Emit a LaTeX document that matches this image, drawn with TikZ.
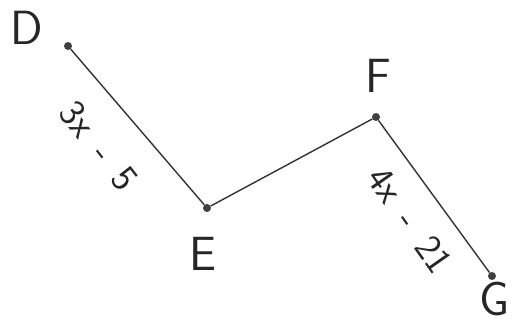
\documentclass[tikz,border=0pt]{standalone}
\usepackage{fontspec}
\begin{document}
\begin{tikzpicture}[x=1pt,y=-1pt,
  seg/.style={draw=black!80, line width=1.4pt},
  pt/.style={circle, fill=black!75, inner sep=0pt, minimum size=8pt},
  vlabel/.style={font=\sffamily\fontsize{48}{54}\selectfont, text=black!85, inner sep=0pt},
  elabel/.style={font=\sffamily\fontsize{38}{44}\selectfont, text=black!85, inner sep=0pt}]
\useasboundingbox (0,0) rectangle (515,324);
\node[pt] (D) at (68,46) {};
\node[pt] (E) at (207,208) {};
\node[pt] (F) at (376,117) {};
\node[pt] (G) at (492,276) {};
\draw[seg] (D) -- (E) -- (F) -- (G);
\node[vlabel] (lD) at (27,28) {D};
\node[vlabel] (lE) at (203,254) {E};
\node[vlabel] (lF) at (378,76) {F};
\node[vlabel] (lG) at (495,299) {G};
\node[elabel, rotate=-52] (lDE) at (99,146) {3x\enspace-\enspace5};
\node[elabel, rotate=-55] (lFG) at (410,220) {4x\enspace-\enspace21};
\end{tikzpicture}
\end{document}
